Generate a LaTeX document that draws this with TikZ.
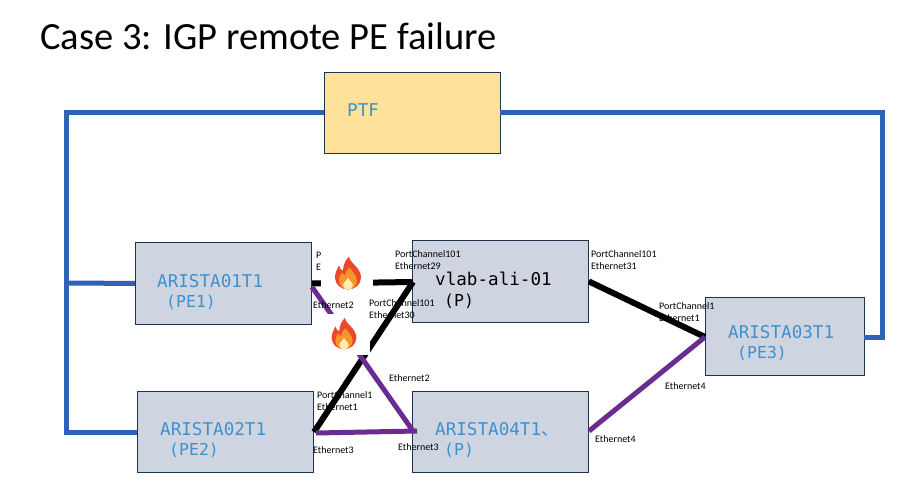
\documentclass[tikz,border=0pt]{standalone}
\usepackage{fontspec}
\setmainfont{Carlito}
\setmonofont{DejaVu Sans Mono}
\newfontfamily\cjk{Noto Sans CJK SC}
\usepackage{tikz}
\definecolor{boxfill}{HTML}{CFD5E0}
\definecolor{boxline}{HTML}{1F3350}
\definecolor{ptffill}{HTML}{FFE29A}
\definecolor{linkblue}{HTML}{2F62B4}
\definecolor{linkpurple}{HTML}{6A2C91}
\definecolor{namecolor}{HTML}{3E90CE}
\definecolor{flameout}{HTML}{EA4A2A}
\definecolor{flamemid}{HTML}{F8962E}
\definecolor{flamein}{HTML}{FFEDB5}
\tikzset{
  devbox/.style={draw=boxline,fill=boxfill,line width=0.9pt,anchor=north west,inner sep=0pt},
  devname/.style={anchor=north west,inner sep=0pt,align=left,text=namecolor,font=\ttfamily\fontsize{17.6}{21}\selectfont},
  portlabel/.style={anchor=north west,inner sep=0pt,align=left,font=\fontsize{10}{12.2}\selectfont},
  firebox/.style={fill=white,inner sep=0pt,anchor=north west},
  bluelink/.style={draw=linkblue,line width=5pt},
  blacklink/.style={draw=black,line width=6pt},
  purplelink/.style={draw=linkpurple,line width=5pt},
  pics/flame/.style={code={
    \fill[flameout] (1,-17) .. controls (2,-10) and (13,-6) .. (13,4) .. controls (13,11) and (7,16) .. (0,16)
      .. controls (-7,16) and (-13,11) .. (-13,4) .. controls (-13,-1) and (-11,-4) .. (-9,-8)
      .. controls (-8,-5) and (-7,-3) .. (-5,-3) .. controls (-5,-9) and (-2,-14) .. (1,-17) -- cycle;
    \fill[flamemid] (2,-6) .. controls (3,-2) and (9,1) .. (9,7) .. controls (9,12) and (5,16) .. (0,16)
      .. controls (-5,16) and (-9,12) .. (-9,7) .. controls (-9,3) and (-7,1) .. (-6,-1)
      .. controls (-5,1) and (-4,2) .. (-3,2) .. controls (-3,-1) and (-1,-4) .. (2,-6) -- cycle;
    \fill[flamein] (0,4) .. controls (1,7) and (5,9) .. (5,12) .. controls (5,15) and (2,16) .. (0,16)
      .. controls (-2,16) and (-5,15) .. (-5,12) .. controls (-5,9) and (-1,7) .. (0,4) -- cycle;
  }}
}
\newcommand{\subname}[1]{\\[-0.5pt]\hspace*{9pt}\fontsize{16.5}{21}\selectfont#1}
\begin{document}
\begin{tikzpicture}[x=1pt,y=-1pt]
\useasboundingbox (0,0) rectangle (912,500);
\node[anchor=west,inner sep=0pt,font=\fontsize{38.5}{42}\selectfont] (title) at (40,36) {Case 3: IGP remote PE failure};
% boxes
\node[devbox,fill=ptffill,minimum width=176pt,minimum height=81pt] (ptf) at (324,72) {};
\node[devbox,minimum width=176pt,minimum height=82pt] (arista01) at (135,242) {};
\node[devbox,minimum width=176pt,minimum height=82pt] (vlab) at (412,240) {};
\node[devbox,minimum width=159pt,minimum height=78pt] (arista03) at (705,297) {};
\node[devbox,minimum width=176pt,minimum height=81pt] (arista02) at (137,391) {};
\node[devbox,minimum width=176pt,minimum height=81pt] (arista04) at (412,391) {};
% free ends and bends
\coordinate (cornerTL) at (66,113);
\coordinate (cornerBL) at (66,432);
\coordinate (branchL) at (66,283);
\coordinate (cornerTR) at (882,113);
\coordinate (cornerBR) at (882,337);
\coordinate (ptfleft) at (324,113);
\coordinate (ptfright) at (500,113);
\coordinate (pe2blue) at (137,432);
\coordinate (pe3blue) at (864,337);
\coordinate (pe1purple) at (312,287);
\coordinate (p4top) at (413,431);
\coordinate (p4over) at (417,431);
\coordinate (pe2purple) at (316,433);
\coordinate (p4right) at (589,431);
\coordinate (pe3left) at (705,337);
\coordinate (pe2black) at (314,432);
\coordinate (vlabbottom) at (413,282);
% links
\draw[bluelink] (ptfleft) -- (cornerTL) -- (cornerBL) -- (pe2blue);
\draw[bluelink] (branchL) -- (arista01.west);
\draw[bluelink] (ptfright) -- (cornerTR) -- (cornerBR) -- (pe3blue);
\draw[blacklink] (arista01.east) -- (vlabbottom);
\draw[blacklink] (vlabbottom) -- (pe2black);
\draw[blacklink] (vlab.east) -- (pe3left);
\draw[purplelink] (pe1purple) -- (p4top);
\draw[purplelink] (pe2purple) -- (p4over);
\draw[purplelink] (p4right) -- (pe3left);
% names
\node[devname] (ptfname) at (347,103) {PTF};
\node[devname] (name01) at (157,274) {ARISTA01T1\subname{(PE1)}};
\node[devname,text=black] (namevlab) at (435,272) {vlab-ali-01\subname{(P)}};
\node[devname] (name03) at (728,325) {ARISTA03T1\subname{(PE3)}};
\node[devname] (name02) at (160,422) {ARISTA02T1\subname{(PE2)}};
\node[devname] (name04) at (435,422) {ARISTA04T1{\cjk 、}\subname{(P)}};
% fires
\node[firebox,minimum width=52pt,minimum height=44pt] (fire1) at (321,250) {};
\node[firebox,minimum width=42pt,minimum height=41pt] (fire2) at (328,314) {};
\pic at (348,273.5) {flame};
\pic[scale=0.95] at (344,334) {flame};
% port labels
\node[portlabel] (lblA) at (316,252) {P\\E};
\node[portlabel] (lblB) at (313,301) {Ethernet2};
\node[portlabel] (lblC) at (395,250) {PortChannel101\\Ethernet29};
\node[portlabel] (lblD) at (369,299) {PortChannel101\\Ethernet30};
\node[portlabel] (lblE) at (591,250) {PortChannel101\\Ethernet31};
\node[portlabel] (lblF) at (659,302) {PortChannel1\\Ethernet1};
\node[portlabel] (lblG) at (317,391) {PortChannel1\\Ethernet1};
\node[portlabel] (lblH) at (389,374) {Ethernet2};
\node[portlabel] (lblI) at (313,446) {Ethernet3};
\node[portlabel] (lblJ) at (398,443) {Ethernet3};
\node[portlabel] (lblK) at (665,382) {Ethernet4};
\node[portlabel] (lblL) at (595,435) {Ethernet4};
\end{tikzpicture}
\end{document}
